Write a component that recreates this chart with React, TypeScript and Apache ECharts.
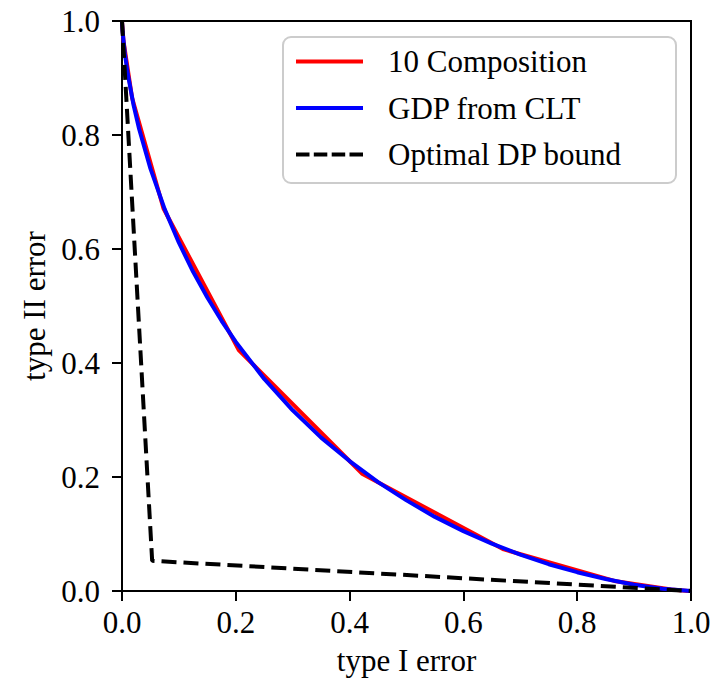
import React, { useEffect, useRef } from "react";
import * as echarts from "echarts";

// type I error (x) and type II error (y) values
const compositionX = [0, 0.0002, 0.0026, 0.0177, 0.0729, 0.2052, 0.4227, 0.671, 0.8653, 0.9652, 0.9956, 1];
const compositionY = [1, 0.9956, 0.9652, 0.8653, 0.671, 0.4227, 0.2052, 0.0729, 0.0177, 0.0026, 0.0002, 0];

const gdpX = [0, 0.0001, 0.001, 0.005, 0.01, 0.02, 0.03, 0.05, 0.075, 0.1, 0.125, 0.15, 0.175, 0.2, 0.25, 0.3, 0.35, 0.4, 0.45, 0.5, 0.55, 0.6, 0.65, 0.7, 0.75, 0.8, 0.85, 0.9, 0.95, 1];
const gdpY = [1, 0.997, 0.982, 0.943, 0.908, 0.854, 0.811, 0.741, 0.67, 0.611, 0.56, 0.515, 0.474, 0.437, 0.372, 0.317, 0.269, 0.228, 0.191, 0.159, 0.13, 0.105, 0.083, 0.064, 0.047, 0.033, 0.021, 0.011, 0.004, 0];

const boundX = [0, 0.053, 1];
const boundY = [1, 0.053, 0];

const seriesNames = ["10 Composition", "GDP from CLT", "Optimal DP bound"];
const seriesColors = ["#ff0000", "#0000ff", "#000000"];

const FONT = "'Liberation Serif', 'DejaVu Serif', serif";

const SOLID_ICON = "path://M0,0H67V4H0Z";
const DASHED_ICON = "path://M0,0H13.5V4H0Z M17.8,0H31.3V4H17.8Z M35.7,0H49.2V4H35.7Z M53.5,0H67V4H53.5Z";

function pairs(xs: number[], ys: number[]) {
  return xs.map((x, i) => [x, ys[i]]);
}

export default function App() {
  const ref = useRef<HTMLDivElement>(null);
  useEffect(() => {
    document.body.style.margin = "0";
    const chart = echarts.init(ref.current!, null, { renderer: "svg" });
    const axisCommon = {
      type: "value" as const,
      min: 0,
      max: 1,
      interval: 0.2,
      axisLine: { show: true, onZero: false, lineStyle: { color: "#000", width: 2 } },
      axisTick: { show: true, inside: false, length: 10, lineStyle: { color: "#000", width: 2 } },
      splitLine: { show: false },
      nameTextStyle: { fontFamily: FONT, fontSize: 31, color: "#000" },
      nameLocation: "middle" as const,
    };
    chart.setOption({
      animation: false,
      backgroundColor: "#fff",
      grid: {
        left: 122,
        top: 21,
        right: 33,
        bottom: 92,
        show: true,
        borderColor: "#000",
        borderWidth: 2,
        backgroundColor: "transparent",
      },
      xAxis: {
        ...axisCommon,
        name: "type I error",
        nameGap: 54,
        axisLabel: {
          fontFamily: FONT,
          fontSize: 31,
          color: "#000",
          margin: 16,
          formatter: (v: number) => v.toFixed(1),
        },
      },
      yAxis: {
        ...axisCommon,
        name: "type II error",
        nameGap: 70,
        nameRotate: 90,
        axisLabel: {
          fontFamily: FONT,
          fontSize: 31,
          color: "#000",
          margin: 22,
          formatter: (v: number) => v.toFixed(1),
        },
      },
      legend: {
        data: seriesNames.map((name, i) => ({
          name,
          icon: i === 2 ? DASHED_ICON : SOLID_ICON,
          itemStyle: { color: seriesColors[i], borderWidth: 0 },
        })),
        orient: "vertical",
        left: 296,
        top: 46,
        padding: 0,
        itemWidth: 67,
        itemHeight: 4,
        itemGap: 15.5,
        z: 10,
        itemStyle: { borderWidth: 0 },
        lineStyle: { width: 0 },
        textStyle: {
          fontFamily: FONT,
          fontSize: 31,
          color: "#000",
          lineHeight: 30,
          padding: [0, 0, 0, 20],
        },
      },
      graphic: [
        {
          type: "rect",
          z: 5,
          shape: { x: 283, y: 37, width: 393, height: 146, r: 8 },
          style: { fill: "rgba(255,255,255,0.8)", stroke: "#cccccc", lineWidth: 2 },
        },
      ],
      series: [
        {
          name: seriesNames[0],
          type: "line",
          data: pairs(compositionX, compositionY),
          showSymbol: false,
          symbol: "none",
          lineStyle: { color: seriesColors[0], width: 4 },
          itemStyle: { color: seriesColors[0] },
          z: 2,
        },
        {
          name: seriesNames[1],
          type: "line",
          data: pairs(gdpX, gdpY),
          showSymbol: false,
          symbol: "none",
          lineStyle: { color: seriesColors[1], width: 4 },
          itemStyle: { color: seriesColors[1] },
          z: 3,
        },
        {
          name: seriesNames[2],
          type: "line",
          data: pairs(boundX, boundY),
          showSymbol: false,
          symbol: "none",
          lineStyle: { color: seriesColors[2], width: 4, type: [15, 7] },
          itemStyle: { color: seriesColors[2] },
          z: 4,
        },
      ],
    });
    return () => chart.dispose();
  }, []);
  return <div ref={ref} style={{ width: 724, height: 683 }} />;
}
